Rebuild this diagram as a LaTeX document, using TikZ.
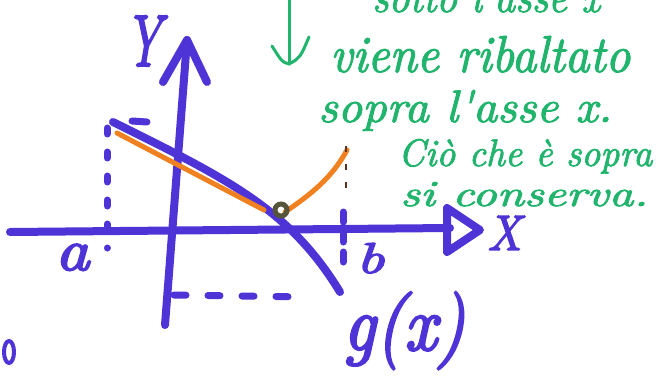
\documentclass[tikz,border=0pt]{standalone}
\usepackage{fontspec}
\newfontfamily\hand{lmroman10-italic.otf}[FakeBold=2]
\newfontfamily\handb{lmroman10-italic.otf}[FakeBold=3]
\usetikzlibrary{arrows.meta}
\definecolor{pen}{RGB}{78,52,214}
\definecolor{gpen}{RGB}{32,180,108}
\definecolor{open}{RGB}{240,128,32}
\definecolor{knotc}{RGB}{85,85,60}
\definecolor{dk}{RGB}{90,50,30}
\begin{document}
\begin{tikzpicture}[x=1pt,y=-1pt,
  ax/.style={draw=pen,line width=8pt,line cap=round,line join=round},
  dash1/.style={draw=pen,line width=7pt,line cap=round},
  oline/.style={draw=open,line width=5pt,line cap=round},
  gtext/.style={font=\hand,inner sep=0pt,text=gpen,anchor=base west},
  btext/.style={font=\handb,inner sep=0pt,text=pen,anchor=base west}]
\useasboundingbox (0,0) rectangle (656,380);
\fill[white] (0,0) rectangle (656,380);
% axes
\coordinate (yb) at (165,325);
\coordinate (yt) at (187,40);
\coordinate (yal) at (163,82);
\coordinate (yar) at (207,82);
\draw[ax] (yb) -- (yt);
\draw[ax] (yal) -- (yt) -- (yar);
\coordinate (xl) at (10,232);
\coordinate (xr) at (450,228);
\coordinate (xt1) at (447,208);
\coordinate (xtip) at (480,230);
\coordinate (xt2) at (447,252);
\draw[ax] (xl) -- (xr);
\draw[ax] (xt1) -- (xtip) -- (xt2) -- cycle;
% function g
\coordinate (ga) at (113,122);
\coordinate (gb) at (340,292);
\draw[ax] (ga) .. controls (230,180) and (290,210) .. (gb);
% orange
\coordinate (oa) at (117,133);
\coordinate (ob) at (264,210);
\coordinate (oc) at (285,212);
\coordinate (od) at (347,150);
\draw[draw=dk,line width=1pt] (160,156) -- (250,204);
\draw[oline] (oa) -- (ob);
\draw[oline] (oc) .. controls (310,195) and (332,178) .. (od);
\coordinate (kn) at (281,210);
\draw[knotc,line width=5pt] (kn) circle (6);
% dashed guides
\coordinate (la) at (107,128);
\coordinate (lb) at (107,248);
\draw[dash1,dash pattern=on 6pt off 18pt] (la) -- (lb);
\coordinate (lc) at (132,121);
\coordinate (ld) at (147,122);
\draw[dash1] (lc) -- (ld);
\coordinate (ra) at (343,212);
\coordinate (rb) at (343,266);
\draw[dash1,dash pattern=on 10pt off 10pt] (ra) -- (rb);
\coordinate (rc) at (346,146);
\coordinate (rd) at (346,196);
\draw[draw=dk,line width=2pt,dash pattern=on 6pt off 12pt] (rc) -- (rd);
\coordinate (ba) at (174,295);
\coordinate (bb) at (308,297);
\draw[dash1,dash pattern=on 12pt off 22pt] (ba) -- (bb);
% blue labels
\node[btext] (ylab) at (125,66) {\resizebox{36pt}{50pt}{Y}};
\node[btext] (xlab) at (487,250) {\resizebox{34pt}{34pt}{X}};
\node[btext] (alab) at (55,270) {\resizebox{34pt}{26pt}{a}};
\node[btext] (blab) at (356,273) {\resizebox{28pt}{30pt}{b}};
\node[btext] (glab) at (343,350) {\resizebox{122pt}{58pt}{g(x)}};
\draw[pen,line width=4pt] (9,352) ellipse (5 and 11);
% green arrow
\coordinate (ga1) at (289,-2);
\coordinate (ga2) at (289,64);
\coordinate (gal) at (272,46);
\coordinate (gar) at (309,37);
\draw[draw=gpen,line width=3pt,line cap=round] (ga1) -- (ga2);
\draw[draw=gpen,line width=3pt,line cap=round,line join=round] (gal) .. controls (282,62) .. (ga2) .. controls (300,58) .. (gar);
% green text
\begin{scope}
\clip (0,0) rectangle (656,380);
\node[gtext] (t0) at (372,12) {\resizebox{228pt}{30pt}{sotto l'asse x}};
\end{scope}
\node[gtext] (t1) at (330,72) {\resizebox{300pt}{36pt}{viene ribaltato}};
\node[gtext] (t2) at (318,122) {\resizebox{294pt}{32pt}{sopra l'asse x.}};
\node[gtext] (t3) at (398,166) {\resizebox{254pt}{27pt}{Ciò che è sopra}};
\node[gtext] (t4) at (400,206) {\resizebox{248pt}{24pt}{si conserva.}};
\end{tikzpicture}
\end{document}
